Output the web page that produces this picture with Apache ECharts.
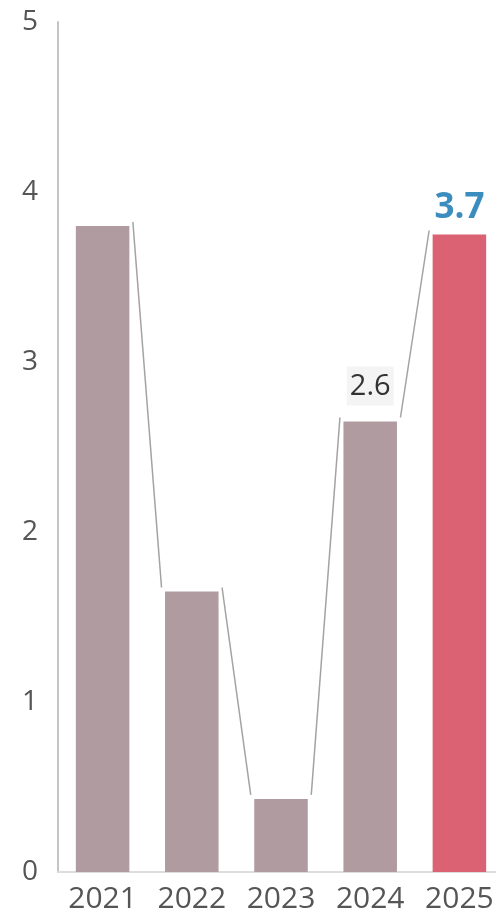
<!DOCTYPE html>
<html>
<head>
<meta charset="utf-8">
<script src="https://cdn.jsdelivr.net/npm/echarts@6/dist/echarts.min.js"></script>
<style>
	html, body { margin: 0; padding: 0; background: #fff; }
	#main { width: 496px; height: 916px; }
</style>
</head>
<body>
<div id="main"></div>
<script>
var years = [ '2021', '2022', '2023', '2024', '2025' ];
var values = [ 3.8, 1.65, 0.43, 2.65, 3.75 ];
var yTicks = [ 0, 1, 2, 3, 4, 5 ];
var labelledYears = [ '2024', '2025' ];
var currentYear = '2025';

var myChart = echarts.init(document.getElementById('main'));

// bar items, the last year highlighted
var barData = [];
for (var i = 0; i < years.length; i++) {
	var item = { value : values[i] };
	if (years[i] == currentYear) {
		item.itemStyle = { color : '#db6272' };
		item.label = {
			show : true,
			position : 'top',
			distance : 9,
			color : '#3b8dbf',
			fontWeight : 'bold',
			fontSize : 35
		};
	} else if (labelledYears.indexOf(years[i]) >= 0) {
		item.label = {
			show : true,
			position : 'top',
			distance : 16,
			color : '#333',
			fontSize : 29,
			backgroundColor : '#f4f4f4',
			padding : [ 6, 3, 4, 3 ]
		};
	}
	barData.push(item);
}

// connectors between neighbouring bar tops
var linkData = [];
for (var j = 0; j < values.length - 1; j++) {
	linkData.push([ j, values[j], values[j + 1] ]);
}

var option = {
	animation : false,
	textStyle : {
		fontFamily : 'Open Sans'
	},
	grid : {
		left : 58,
		top : 22,
		right : -8,
		bottom : 44,
		outerBoundsMode : 'none'
	},
	xAxis : {
		type : 'category',
		data : years,
		axisLine : { lineStyle : { color : '#ddd', width : 2 } },
		axisTick : { show : false },
		axisLabel : { color : '#555', fontSize : 30, margin : 12 }
	},
	yAxis : {
		type : 'value',
		min : yTicks[0],
		max : yTicks[yTicks.length - 1],
		interval : 1,
		splitLine : { show : false },
		axisLine : { show : true, lineStyle : { color : '#c4c4c4', width : 2 } },
		axisLabel : { color : '#555', fontSize : 28, margin : 20 }
	},
	series : [ {
		type : 'bar',
		barWidth : '60%',
		itemStyle : { color : '#b09ca0' },
		label : {
			formatter : function(p) {
				return (Math.floor(p.value * 10) / 10).toFixed(1);
			}
		},
		data : barData
	}, {
		type : 'custom',
		encode : { x : 0, y : [ 1, 2 ] },
		renderItem : function(params, api) {
			var p0 = api.coord([ api.value(0), api.value(1) ]);
			var p1 = api.coord([ api.value(0) + 1, api.value(2) ]);
			var hw = api.size([ 1, 0 ])[0] * 0.3;
			return {
				type : 'line',
				shape : {
					x1 : p0[0] + hw + 3.5,
					y1 : p0[1] - 4,
					x2 : p1[0] - hw - 3.5,
					y2 : p1[1] - 4
				},
				style : { stroke : '#a3a3a3', lineWidth : 1.5 }
			};
		},
		data : linkData
	} ]
};

myChart.setOption(option);
</script>
</body>
</html>
